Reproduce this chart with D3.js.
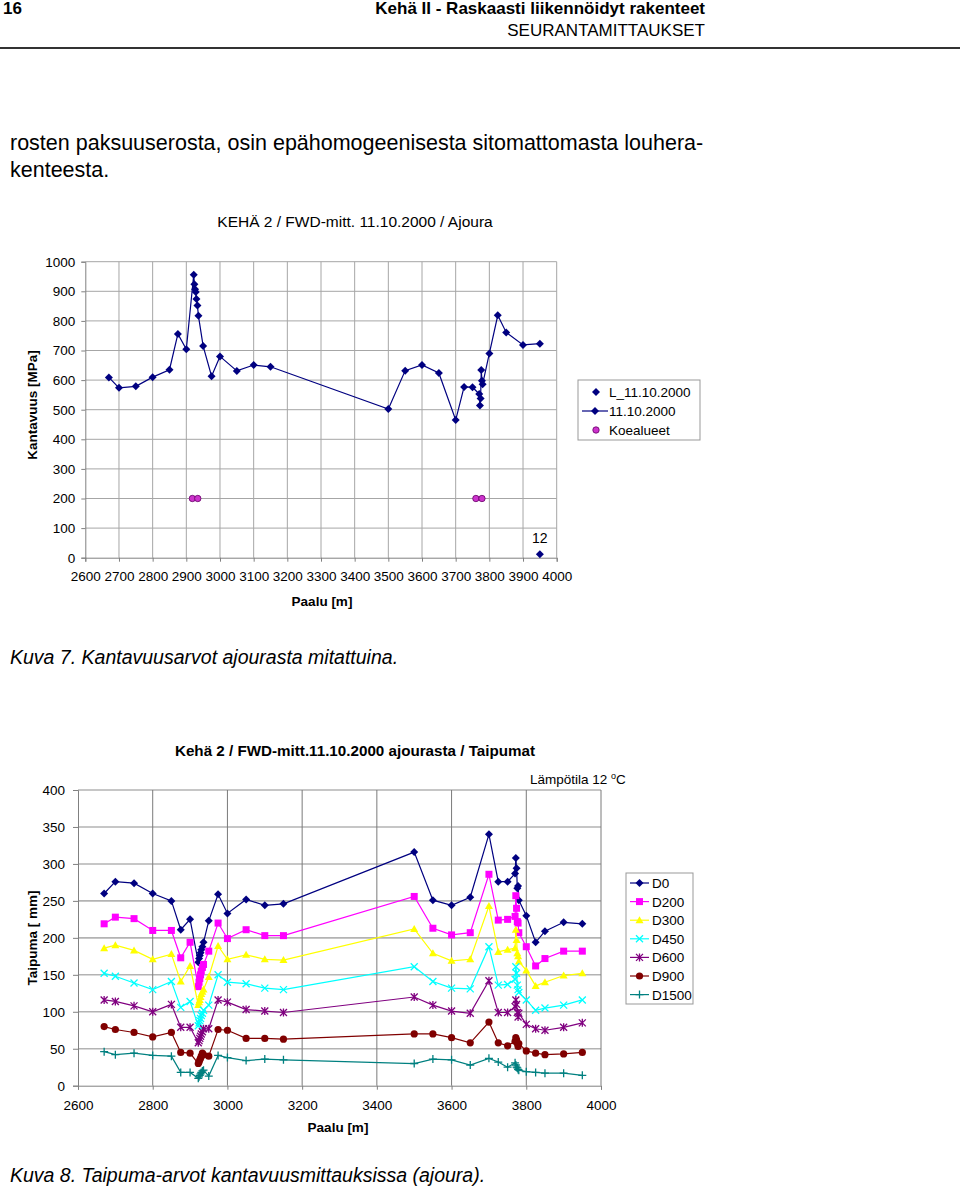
<!DOCTYPE html>
<html>
<head>
<meta charset="utf-8">
<script src="https://cdn.jsdelivr.net/npm/d3@7"></script>
<style>
  body { margin: 0; background: #fff; font-family: "Liberation Sans", Arial, sans-serif; }
  svg text { font-family: "Liberation Sans", Arial, sans-serif; }
</style>
</head>
<body>
<script>
// paalut (asemat), yhteiset molemmille kuville
var paalu = [2670, 2700, 2750, 2800, 2850, 2875, 2900,
    2922, 2924, 2926, 2928, 2930, 2933, 2936,
    2950, 2975, 3000, 3050, 3100, 3150,
    3500, 3550, 3600, 3650, 3700, 3725, 3750,
    3770, 3772, 3774, 3776, 3778, 3780,
    3800, 3825, 3850, 3900, 3950];

// kuva 7: kantavuus [MPa]
var kantavuus = [609, 574, 579, 610, 635, 756, 704,
    956, 924, 907, 898, 874, 852, 817,
    715, 613, 680, 631, 651, 645,
    502, 632, 651, 624, 465, 577, 576,
    553, 514, 538, 634, 598, 586,
    690, 819, 761, 719, 723];
var lPaalu = [3950];
var lArvo = [12];
var koePaalu = [2918, 2934, 3760, 3778];
var koeArvo = [200, 200, 200, 200];

// kuva 8: taipumat [mm]
var sarjat = ["D0", "D200", "D300", "D450", "D600", "D900", "D1500"];
var d0 = [260, 276, 274, 260, 250, 211, 225, 167, 172, 176, 180, 184, 188, 194,
    223, 259, 233, 252, 244, 246, 316, 251, 244, 255, 340, 276, 276,
    287, 308, 294, 267, 270, 251, 230, 194, 209, 221, 219];
var d200 = [219, 228, 226, 210, 210, 173, 194, 134, 140, 145, 150, 155, 160, 164,
    182, 220, 199, 211, 203, 203, 256, 213, 204, 207, 286, 224, 225,
    229, 257, 240, 222, 220, 207, 188, 162, 172, 182, 182];
var d300 = [186, 190, 183, 171, 178, 141, 162, 109, 113, 116, 120, 124, 127, 130,
    147, 189, 171, 177, 171, 170, 212, 179, 169, 171, 243, 181, 184,
    186, 211, 197, 179, 175, 168, 156, 135, 140, 149, 152];
var d450 = [152, 148, 139, 130, 141, 106, 114, 81, 85, 88, 91, 95, 98, 102,
    109, 150, 140, 138, 132, 130, 161, 141, 132, 131, 188, 136, 137,
    144, 161, 152, 136, 130, 126, 116, 102, 105, 109, 116];
var d600 = [116, 114, 108, 100, 110, 79, 79, 58, 61, 64, 67, 70, 73, 77,
    77, 116, 113, 103, 101, 99, 120, 109, 101, 98, 142, 99, 99,
    107, 116, 110, 99, 93, 98, 83, 77, 75, 79, 85];
var d900 = [80, 76, 72, 66, 72, 45, 44, 30, 32, 35, 37, 40, 44, 42,
    40, 76, 75, 64, 64, 63, 70, 70, 65, 58, 86, 58, 54,
    60, 65, 62, 57, 53, 57, 47, 44, 42, 43, 45];
var d1500 = [46, 42, 44, 41, 40, 18, 18, 10, 12, 14, 16, 18, 20, 21,
    13, 41, 38, 34, 36, 35, 30, 36, 35, 28, 37, 32, 25,
    31, 28, 25, 24, 22, 21, 19, 18, 17, 17, 14];
var taipumat = [d0, d200, d300, d450, d600, d900, d1500];
var varit = ["#000080", "#ff00ff", "#ffff00", "#00ffff", "#800080", "#800000", "#008080"];
var merkit = ["diamond", "square", "triangle", "x", "star", "circle", "plus"];

var xTicks1 = d3.range(2600, 4001, 100);
var yTicks1 = d3.range(0, 1001, 100);
var xTicks2 = d3.range(2600, 4001, 200);
var yTicks2 = d3.range(0, 401, 50);

var fs = 13.5; // kaavioiden fonttikoko

var svg = d3.select("body").append("svg")
    .attr("width", 960)
    .attr("height", 1189);

// sivun otsake
svg.append("text").attr("x", 3).attr("y", 14).attr("font-size", 17).attr("font-weight", "bold").text("16");
svg.append("text").attr("x", 705).attr("y", 14).attr("text-anchor", "end").attr("font-size", 17)
    .attr("font-weight", "bold").text("Kehä II - Raskaasti liikennöidyt rakenteet");
svg.append("text").attr("x", 705).attr("y", 36).attr("text-anchor", "end").attr("font-size", 17)
    .text("SEURANTAMITTAUKSET");
svg.append("line").attr("x1", 0).attr("x2", 960).attr("y1", 48).attr("y2", 48)
    .attr("stroke", "#333").attr("stroke-width", 2);

svg.append("text").attr("x", 10).attr("y", 150).attr("font-size", 21.5)
    .text("rosten paksuuserosta, osin epähomogeenisesta sitomattomasta louhera-");
svg.append("text").attr("x", 10).attr("y", 177).attr("font-size", 21.5).text("kenteesta.");

// merkkien piirto
function merkki(g, tyyppi, x, y, vari) {
    if (tyyppi == "diamond") {
        g.append("path").attr("d", "M" + x + "," + (y - 4) + "l4,4l-4,4l-4,-4z").attr("fill", vari);
    } else if (tyyppi == "square") {
        g.append("rect").attr("x", x - 3.5).attr("y", y - 3.5).attr("width", 7).attr("height", 7).attr("fill", vari);
    } else if (tyyppi == "triangle") {
        g.append("path").attr("d", "M" + x + "," + (y - 4) + "l4,7h-8z").attr("fill", vari);
    } else if (tyyppi == "x") {
        g.append("path").attr("d", "M" + (x - 3.5) + "," + (y - 3.5) + "l7,7M" + (x + 3.5) + "," + (y - 3.5) + "l-7,7")
            .attr("stroke", vari).attr("stroke-width", 1.3);
    } else if (tyyppi == "star") {
        g.append("path").attr("d", "M" + (x - 3.5) + "," + (y - 3.5) + "l7,7M" + (x + 3.5) + "," + (y - 3.5) + "l-7,7M" + x + "," + (y - 4) + "v8")
            .attr("stroke", vari).attr("stroke-width", 1.3);
    } else if (tyyppi == "circle") {
        g.append("circle").attr("cx", x).attr("cy", y).attr("r", 3.6).attr("fill", vari);
    } else if (tyyppi == "plus") {
        g.append("path").attr("d", "M" + (x - 4) + "," + y + "h8M" + x + "," + (y - 4) + "v8")
            .attr("stroke", vari).attr("stroke-width", 1.3);
    }
}

// ---------- kuva 7 ----------
var x1 = d3.scaleLinear().domain([2600, 4000]).range([85.3, 556.7]);
var y1 = d3.scaleLinear().domain([0, 1000]).range([557.7, 261.7]);
var c1 = svg.append("g");

c1.append("text").attr("x", 355).attr("y", 227).attr("text-anchor", "middle").attr("font-size", 15.5)
    .text("KEHÄ 2 / FWD-mitt. 11.10.2000 / Ajoura");

c1.selectAll(".gx").data(xTicks1.slice(1)).enter().append("line")
    .attr("x1", function (d) { return x1(d); }).attr("x2", function (d) { return x1(d); })
    .attr("y1", y1(0)).attr("y2", y1(1000)).attr("stroke", "#a6a6a6");
c1.selectAll(".gy").data(yTicks1.slice(1)).enter().append("line")
    .attr("x1", x1(2600)).attr("x2", x1(4000))
    .attr("y1", function (d) { return y1(d); }).attr("y2", function (d) { return y1(d); })
    .attr("stroke", "#a6a6a6");

var ax1 = c1.append("g").attr("transform", "translate(0," + y1(0) + ")")
    .call(d3.axisBottom(x1).tickValues(xTicks1).tickSize(4).tickPadding(10).tickFormat(d3.format("d")));
var ay1 = c1.append("g").attr("transform", "translate(" + x1(2600) + ",0)")
    .call(d3.axisLeft(y1).tickValues(yTicks1).tickSize(4).tickPadding(6).tickFormat(d3.format("d")));
[ax1, ay1].forEach(function (a) {
    a.select(".domain").attr("stroke", "#808080");
    a.selectAll(".tick line").attr("stroke", "#808080");
    a.selectAll("text").attr("font-size", fs).attr("fill", "#000");
});

c1.append("text").attr("x", 322).attr("y", 606).attr("text-anchor", "middle").attr("font-size", fs)
    .attr("font-weight", "bold").text("Paalu [m]");
c1.append("text").attr("transform", "translate(37,405) rotate(-90)").attr("text-anchor", "middle")
    .attr("font-size", fs).attr("font-weight", "bold").text("Kantavuus [MPa]");

var viiva1 = d3.line().x(function (d) { return x1(d[0]); }).y(function (d) { return y1(d[1]); });
var pisteet1 = d3.zip(paalu, kantavuus);
c1.append("path").datum(pisteet1).attr("d", viiva1).attr("fill", "none").attr("stroke", "#000080").attr("stroke-width", 1.2);
pisteet1.forEach(function (p) { merkki(c1, "diamond", x1(p[0]), y1(p[1]), "#000080"); });

d3.zip(lPaalu, lArvo).forEach(function (p) {
    merkki(c1, "diamond", x1(p[0]), y1(p[1]), "#000080");
    c1.append("text").attr("x", x1(p[0])).attr("y", y1(p[1]) - 11).attr("text-anchor", "middle")
        .attr("font-size", 14).text(p[1]);
});
d3.zip(koePaalu, koeArvo).forEach(function (p) {
    c1.append("circle").attr("cx", x1(p[0])).attr("cy", y1(p[1])).attr("r", 3.2)
        .attr("fill", "#cc33cc").attr("stroke", "#660066").attr("stroke-width", 0.8);
});

// selite 1
var s1 = c1.append("g").attr("transform", "translate(578,380)");
s1.append("rect").attr("width", 122).attr("height", 60).attr("fill", "#fff").attr("stroke", "#999");
var selite1 = ["L_11.10.2000", "11.10.2000", "Koealueet"];
selite1.forEach(function (t, i) {
    var yy = 12 + i * 19;
    if (i == 0) merkki(s1, "diamond", 18, yy, "#000080");
    if (i == 1) {
        s1.append("line").attr("x1", 4).attr("x2", 30).attr("y1", yy).attr("y2", yy).attr("stroke", "#000080").attr("stroke-width", 1.2);
        merkki(s1, "diamond", 17, yy, "#000080");
    }
    if (i == 2) s1.append("circle").attr("cx", 18).attr("cy", yy).attr("r", 3.2)
        .attr("fill", "#cc33cc").attr("stroke", "#660066").attr("stroke-width", 0.8);
    s1.append("text").attr("x", 31).attr("y", yy + 5).attr("font-size", fs).text(t);
});

svg.append("text").attr("x", 10).attr("y", 664).attr("font-size", 19.5).attr("font-style", "italic")
    .text("Kuva 7. Kantavuusarvot ajourasta mitattuina.");

// ---------- kuva 8 ----------
var x2 = d3.scaleLinear().domain([2600, 4000]).range([78, 601]);
var y2 = d3.scaleLinear().domain([0, 400]).range([1085.7, 790]);
var c2 = svg.append("g");

c2.append("text").attr("x", 355).attr("y", 756).attr("text-anchor", "middle").attr("font-size", 15.2)
    .attr("font-weight", "bold").text("Kehä 2 / FWD-mitt.11.10.2000 ajourasta / Taipumat");
var lt = c2.append("text").attr("x", 530).attr("y", 784).attr("font-size", fs);
lt.append("tspan").text("Lämpötila 12 ");
lt.append("tspan").attr("dy", -5).attr("font-size", 9).text("o");
lt.append("tspan").attr("dy", 5).text("C");

c2.selectAll(".gy").data(yTicks2.slice(1)).enter().append("line")
    .attr("x1", x2(2600)).attr("x2", x2(4000))
    .attr("y1", function (d) { return y2(d); }).attr("y2", function (d) { return y2(d); })
    .attr("stroke", "#b3b3b3").attr("stroke-width", 1.6);
c2.selectAll(".gx").data(xTicks2.slice(1)).enter().append("line")
    .attr("x1", function (d) { return x2(d); }).attr("x2", function (d) { return x2(d); })
    .attr("y1", y2(0)).attr("y2", y2(400)).attr("stroke", "#7a7a7a");

var ax2 = c2.append("g").attr("transform", "translate(0," + y2(0) + ")")
    .call(d3.axisBottom(x2).tickValues(xTicks2).tickSize(4).tickPadding(11).tickFormat(d3.format("d")));
var ay2 = c2.append("g").attr("transform", "translate(" + x2(2600) + ",0)")
    .call(d3.axisLeft(y2).tickValues(yTicks2).tickSize(5).tickPadding(8).tickFormat(d3.format("d")));
[ax2, ay2].forEach(function (a) {
    a.select(".domain").attr("stroke", "#808080");
    a.selectAll(".tick line").attr("stroke", "#808080");
    a.selectAll("text").attr("font-size", fs).attr("fill", "#000");
});

c2.append("text").attr("x", 338).attr("y", 1132).attr("text-anchor", "middle").attr("font-size", fs)
    .attr("font-weight", "bold").text("Paalu [m]");
c2.append("text").attr("transform", "translate(37,938) rotate(-90)").attr("text-anchor", "middle")
    .attr("font-size", fs).attr("font-weight", "bold").text("Taipuma [ mm]");

var viiva2 = d3.line().x(function (d) { return x2(d[0]); }).y(function (d) { return y2(d[1]); });
taipumat.forEach(function (arvot, i) {
    var pts = d3.zip(paalu, arvot);
    c2.append("path").datum(pts).attr("d", viiva2).attr("fill", "none")
        .attr("stroke", varit[i]).attr("stroke-width", 1.2);
    pts.forEach(function (p) { merkki(c2, merkit[i], x2(p[0]), y2(p[1]), varit[i]); });
});

// selite 2
var s2 = c2.append("g").attr("transform", "translate(626,873)");
s2.append("rect").attr("width", 67).attr("height", 131).attr("fill", "#fff").attr("stroke", "#999");
sarjat.forEach(function (t, i) {
    var yy = 10 + i * 18.6;
    s2.append("line").attr("x1", 4).attr("x2", 23).attr("y1", yy).attr("y2", yy).attr("stroke", varit[i]).attr("stroke-width", 1.2);
    merkki(s2, merkit[i], 13.5, yy, varit[i]);
    s2.append("text").attr("x", 26).attr("y", yy + 5).attr("font-size", fs).text(t);
});

svg.append("text").attr("x", 10).attr("y", 1182).attr("font-size", 19.5).attr("font-style", "italic")
    .text("Kuva 8. Taipuma-arvot kantavuusmittauksissa (ajoura).");
</script>
</body>
</html>
